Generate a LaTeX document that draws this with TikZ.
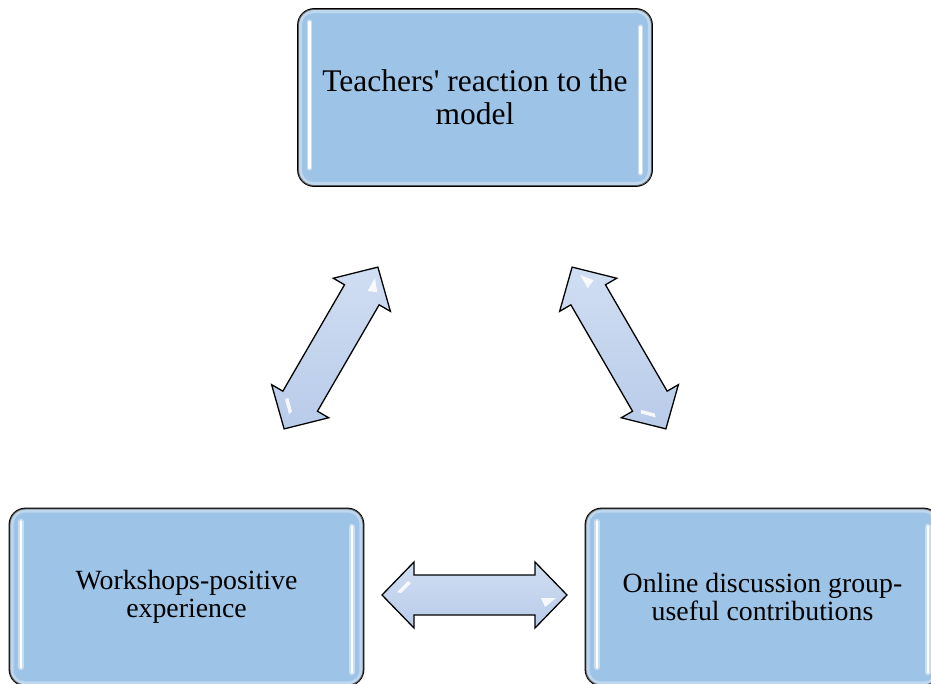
\documentclass[tikz,border=0pt]{standalone}
\usepackage{fontspec}
\setmainfont{Liberation Serif}
\usetikzlibrary{calc}
\definecolor{boxfill}{RGB}{157,195,230}
\definecolor{arrowtop}{RGB}{208,222,242}
\definecolor{arrowbot}{RGB}{184,203,233}
\tikzset{
  box/.style={draw=black, line width=1.8pt, rounded corners=16pt, fill=boxfill,
    minimum width=354pt, minimum height=177pt, align=center, inner sep=0pt},
  bigtext/.style={font=\fontsize{31.5}{33}\selectfont},
  smalltext/.style={font=\fontsize{27.8}{27.5}\selectfont},
  innerglow/.style={draw=white, line width=4pt, opacity=0.35, rounded corners=13pt},
  glow/.style={draw=white, line width=5.5pt, opacity=0.45, line cap=round},
  bar/.style={draw=white, line width=2.6pt, line cap=round},
  blockarrow/.style={draw=black, line width=1.3pt, line join=miter, top color=arrowtop, bottom color=arrowbot},
  shine/.style={fill=white, opacity=0.85, draw=none},
}
\newcommand\gloss[1]{%
  \draw[innerglow] ($(#1.north west)+(3,3)$) rectangle ($(#1.south east)+(-3,-3)$);
  \draw[glow] ($(#1.north west)+(12.5,14)$) -- ($(#1.south west)+(12.5,-19)$);
  \draw[bar]  ($(#1.north west)+(12.5,14)$) -- ($(#1.south west)+(12.5,-19)$);
  \draw[glow] ($(#1.north east)+(-12.5,19)$) -- ($(#1.south east)+(-12.5,-14)$);
  \draw[bar]  ($(#1.north east)+(-12.5,19)$) -- ($(#1.south east)+(-12.5,-14)$);
}
% double block arrow: centre x, centre y, angle, half length
\newcommand\dblarrow[4]{%
  \begin{scope}[shift={(#1,#2)}, rotate=#3]
    \draw[blockarrow] (-#4,0) -- (-#4+32,-33) -- (-#4+32,-20) -- (#4-32,-20) -- (#4-32,-33)
      -- (#4,0) -- (#4-32,33) -- (#4-32,20) -- (-#4+32,20) -- (-#4+32,33) -- cycle;
    \fill[shine] (-#4+15,-3) -- (-#4+26,-14) -- (-#4+29,-12) -- (-#4+19,-2) -- cycle;
    \fill[shine] (#4-26,3) -- (#4-11,3) -- (#4-22,12) -- cycle;
  \end{scope}
}
\begin{document}
\begin{tikzpicture}[x=1pt,y=-1pt]
  \useasboundingbox (0,0) rectangle (931,684);
  \node[box, bigtext]   (teach) at (475,97.5) {Teachers\textquotesingle\ reaction to the\\model};
  \node[box, smalltext] (work)  at (186.5,597) {Workshops-positive\\experience};
  \node[box, smalltext] (online) at (762.5,597) {Online discussion group-\\useful contributions};
  \gloss{teach}
  \gloss{work}
  \gloss{online}
  \dblarrow{331}{348}{59.9}{93.5}
  \dblarrow{619}{348}{120.1}{93.5}
  \dblarrow{474.5}{595}{0}{92.5}
\end{tikzpicture}
\end{document}
